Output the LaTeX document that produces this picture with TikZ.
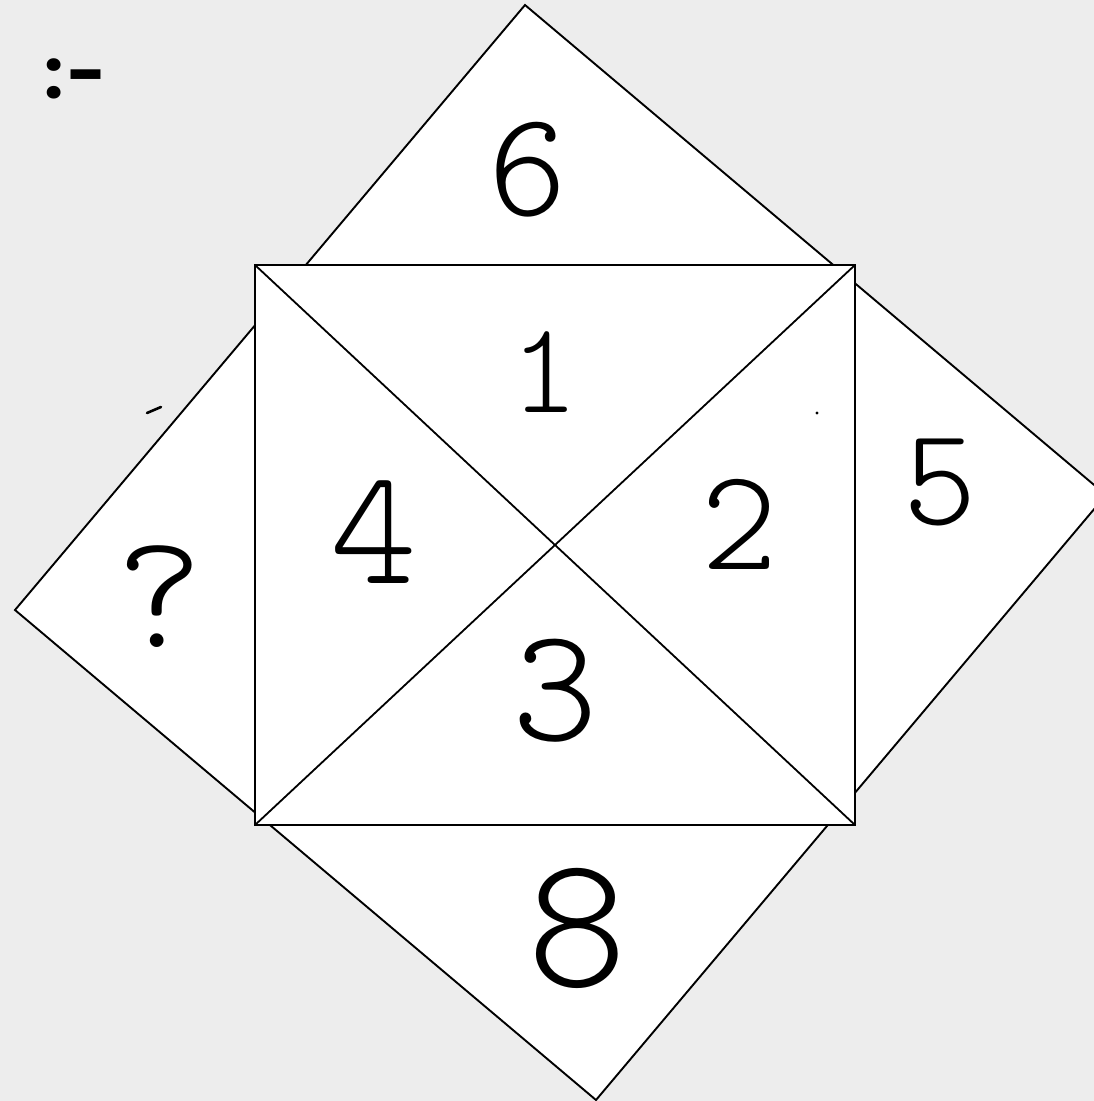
\documentclass[tikz,border=0pt]{standalone}
\usepackage{fontspec}
\setmainfont{DejaVu Sans}
\newfontfamily\hand{lmmonolt10-regular}[Extension=.otf]
\newfontfamily\headfont{Poppins}
\begin{document}
\begin{tikzpicture}[x=1pt,y=-1pt,
  outline/.style={draw=black,line width=1.9pt,fill=white,line join=miter},
  frame/.style={draw=black,line width=2.5pt,fill=white},
  diag/.style={draw=black,line width=1.8pt},
  digit/.style={inner sep=0pt,font=\hand\fontsize{150}{150}\selectfont},
  headtext/.style={inner sep=0pt,font=\headfont\bfseries\fontsize{68}{68}\selectfont},
  straymark/.style={draw=black,line width=2.6pt,line cap=round}]
\fill[fill={rgb,255:red,237;green,237;blue,237}] (0,0) rectangle (1094,1101);
\useasboundingbox (0,0) rectangle (1094,1101);
\begin{scope}
\clip (0,0) rectangle (1094,1101);
% rotated square
\coordinate (dT) at (525,5);
\coordinate (dR) at (1106,495);
\coordinate (dB) at (596,1100);
\coordinate (dL) at (15,610);
\path[outline] (dT) -- (dR) -- (dB) -- (dL) -- cycle;
% inner rectangle
\coordinate (rTL) at (255,265);
\coordinate (rTR) at (855,265);
\coordinate (rBR) at (855,825);
\coordinate (rBL) at (255,825);
\path[frame] (rTL) -- (rTR) -- (rBR) -- (rBL) -- cycle;
\draw[diag] (rTL) -- (rBR);
\draw[diag] (rTR) -- (rBL);
% heading fragment
\node[headtext,anchor=east] (head) at (107,79) {:\kern4pt-};
% digits
\node[digit] (n6) at (528,170) {6};
\node[digit,font=\hand\fontsize{130}{130}\selectfont] (n1) at (545,372) {1};
\node[digit,font=\hand\fontsize{140}{140}\selectfont] (n5) at (940,482) {5};
\node[digit,font=\hand\fontsize{165}{165}\selectfont] (n4) at (374,532) {4};
\node[digit,font=\hand\fontsize{145}{145}\selectfont] (n2) at (740,524) {2};
\node[digit,font=\hand\fontsize{165}{165}\selectfont] (nq) at (160,597) {?};
\node[digit,font=\hand\fontsize{163}{163}\selectfont] (n3) at (555,691) {3};
\node[digit,font=\hand\fontsize{190}{190}\selectfont] (n8) at (577,928) {8};
% stray marks
\coordinate (m1) at (147,413);
\coordinate (m2) at (161,407);
\draw[straymark] (m1) -- (m2);
\fill (817,413) circle (1.6pt);
\end{scope}
\end{tikzpicture}
\end{document}
